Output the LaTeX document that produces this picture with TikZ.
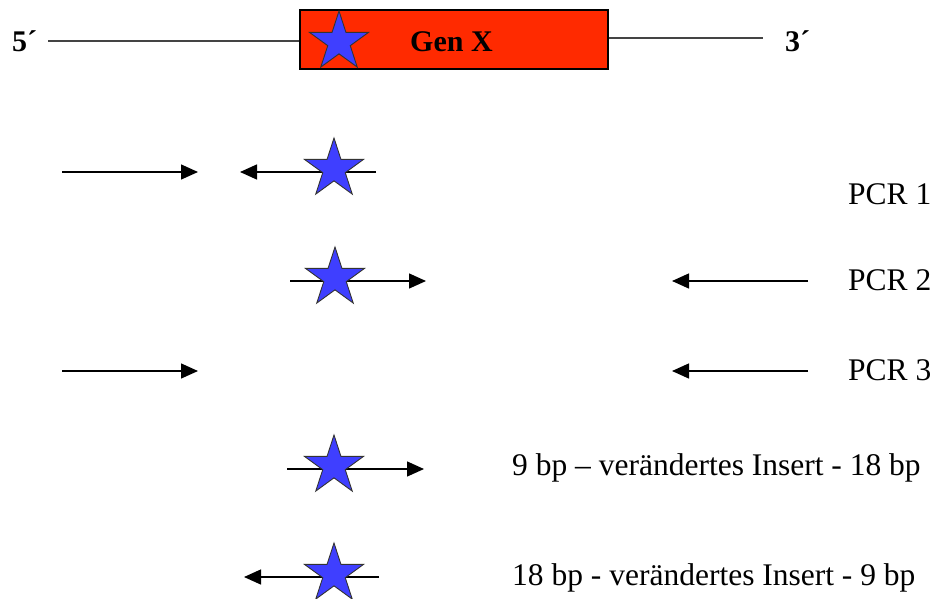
\documentclass[tikz,border=0pt]{standalone}
\usepackage{fontspec}
\setmainfont{Liberation Serif}
\usetikzlibrary{arrows.meta,shapes.geometric}
\definecolor{genred}{HTML}{FF2A00}
\definecolor{starblue}{HTML}{3F3FFF}
\definecolor{strand}{HTML}{444444}
\begin{document}
\begin{tikzpicture}[x=1pt,y=-1pt,
  bigstar/.style={star, star points=5, star point ratio=2.618, minimum size=62pt, inner sep=0pt,
    fill=starblue, draw=black!80, line width=0.9pt},
  primer/.style={line width=1.4pt, -{Triangle[length=17pt,width=15pt]}},
  plain/.style={line width=1.4pt},
  strandline/.style={line width=2pt, draw=strand},
  lbl/.style={font=\fontsize{31.5}{36}\selectfont, inner sep=0pt, anchor=base west},
  endlbl/.style={font=\fontsize{30}{34}\bfseries\selectfont, inner sep=0pt, anchor=base west}]
\useasboundingbox (0,0) rectangle (936,599);

% gene
\node (five) [endlbl] at (12,52) {5´};
\node (three) [endlbl] at (785,52) {3´};
\node (gene) [draw=black, line width=1.2pt, fill=genred, minimum width=308pt, minimum height=59pt, inner sep=0pt] at (454,39.5) {};
\node (genlbl) [font=\fontsize{30}{34}\bfseries\selectfont, inner sep=0pt, anchor=base west] at (410,52) {Gen X};
\coordinate (l5) at (48,41);
\coordinate (r3) at (763,38);
\draw[strandline] (l5) -- (gene.west |- l5);
\draw[strandline] (gene.east |- r3) -- (r3);
\node (s0) [bigstar] at (339,42) {};

% row 1
\coordinate (a1s) at (62,172); \coordinate (a1e) at (198,172);
\coordinate (b1s) at (376,172); \coordinate (b1e) at (240,172);
\draw[primer] (a1s) -- (a1e);
\draw[primer] (b1s) -- (b1e);
\node (s1) [bigstar] at (334,169) {};
\node (pcr1) [lbl] at (848,204) {PCR 1};

% row 2
\coordinate (a2s) at (290,281); \coordinate (a2e) at (426,281);
\coordinate (b2s) at (808,281); \coordinate (b2e) at (672,281);
\draw[primer] (a2s) -- (a2e);
\draw[primer] (b2s) -- (b2e);
\node (s2) [bigstar] at (335,278) {};
\node (pcr2) [lbl] at (848,290) {PCR 2};

% row 3
\coordinate (a3s) at (62,371); \coordinate (a3e) at (198,371);
\coordinate (b3s) at (808,371); \coordinate (b3e) at (672,371);
\draw[primer] (a3s) -- (a3e);
\draw[primer] (b3s) -- (b3e);
\node (pcr3) [lbl] at (848,380) {PCR 3};

% row 4
\coordinate (a4s) at (287,469); \coordinate (a4e) at (424,469);
\draw[primer] (a4s) -- (a4e);
\node (s4) [bigstar] at (334,466) {};
\node (t4) [lbl] at (512,475) {9 bp – verändertes Insert - 18 bp};

% row 5
\coordinate (a5s) at (379,577); \coordinate (a5e) at (244,577);
\draw[primer] (a5s) -- (a5e);
\node (s5) [bigstar] at (334,574) {};
\node (t5) [lbl] at (512,585) {18 bp - verändertes Insert - 9 bp};
\end{tikzpicture}
\end{document}
